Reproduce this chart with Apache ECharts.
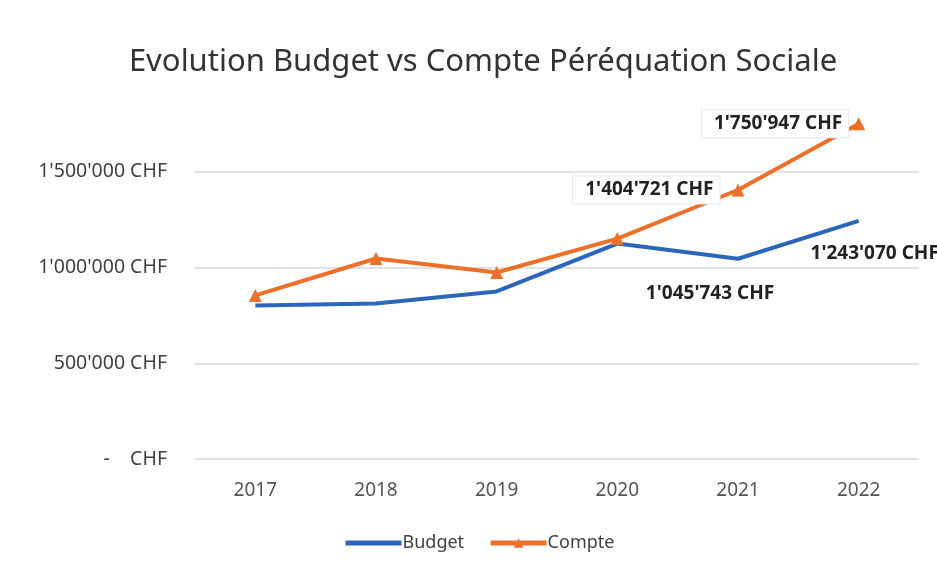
<!DOCTYPE html>
<html>
<head>
<meta charset="utf-8">
<script src="https://cdn.jsdelivr.net/npm/echarts@6/dist/echarts.min.js"></script>
<style>
  html, body { margin: 0; padding: 0; background: #fff; }
  #main { width: 937px; height: 571px; }
</style>
</head>
<body>
<div id="main"></div>
<script>
var years = ['2017', '2018', '2019', '2020', '2021', '2022'];
var budget = [802000, 812000, 875000, 1125000, 1045743, 1243070];
var compte = [854000, 1047000, 974000, 1151000, 1404721, 1750947];

var chartDom = document.getElementById('main');
var myChart = echarts.init(chartDom);

function chf(v) {
  if (v === 0) return '-    CHF';
  return String(Math.round(v)).replace(/\B(?=(\d{3})+(?!\d))/g, "'") + ' CHF';
}

var plainLabel = {
  show: true,
  formatter: function (p) { return chf(p.value); },
  color: '#222',
  fontWeight: 'bold',
  fontSize: 19,
  fontFamily: 'Noto Sans'
};

var boxLabel = Object.assign({}, plainLabel, {
  backgroundColor: '#fff',
  padding: [4, 6, 4, 12],
  borderColor: '#e6e6e6',
  borderWidth: 1
});

var budgetData = budget.map(function (v, i) {
  if (i === 4) return { value: v, label: Object.assign({}, plainLabel, { position: 'bottom', offset: [-28, 20] }) };
  if (i === 5) return { value: v, label: Object.assign({}, plainLabel, { position: 'bottom', offset: [16, 18] }) };
  return v;
});

var compteData = compte.map(function (v, i) {
  if (i === 4) return { value: v, label: Object.assign({}, boxLabel, { position: 'left', distance: 12 }) };
  if (i === 5) return { value: v, label: Object.assign({}, boxLabel, { position: 'left', distance: 4 }) };
  return v;
});

var option = {
  backgroundColor: '#fff',
  title: {
    text: 'Evolution Budget vs Compte Péréquation Sociale',
    left: 478,
    textAlign: 'center',
    top: 42,
    textStyle: { fontFamily: 'Noto Sans', fontSize: 31, fontWeight: 'normal', color: '#333' }
  },
  legend: {
    bottom: 14,
    left: 338,
    itemWidth: 56,
    itemHeight: 12,
    itemGap: 24,
    textStyle: { fontFamily: 'Noto Sans', fontSize: 18, color: '#404040', padding: [0, 0, 0, -4] },
    lineStyle: { width: 5 },
    data: [
      { name: 'Budget', itemStyle: { opacity: 0 } },
      'Compte'
    ]
  },
  grid: { left: 195, right: 18, top: 76, bottom: 112 },
  xAxis: {
    type: 'category',
    data: years,
    boundaryGap: true,
    axisLine: { show: false },
    axisTick: { show: false },
    axisLabel: { color: '#555', fontSize: 19, fontFamily: 'Noto Sans', margin: 22 }
  },
  yAxis: {
    type: 'value',
    min: 0,
    max: 2000000,
    interval: 500000,
    axisLine: { show: false },
    axisTick: { show: false },
    axisLabel: {
      color: '#404040',
      fontSize: 19.5,
      fontFamily: 'Noto Sans',
      margin: 28,
      formatter: function (v) { return v >= 2000000 ? '' : chf(v); }
    },
    splitLine: { lineStyle: { color: ['#e2e2e2', '#e2e2e2', '#e2e2e2', '#e2e2e2', 'rgba(0,0,0,0)'], width: 2 } }
  },
  series: [
    {
      name: 'Budget',
      type: 'line',
      data: budgetData,
      symbol: 'circle',
      symbolSize: 0.1,
      lineStyle: { color: '#2B66BA', width: 4 },
      itemStyle: { color: '#2B66BA' }
    },
    {
      name: 'Compte',
      type: 'line',
      data: compteData,
      symbol: 'triangle',
      symbolSize: 13,
      lineStyle: { color: '#EC6F2A', width: 4 },
      itemStyle: { color: '#EC6F2A' }
    }
  ]
};

option && myChart.setOption(option);
</script>
</body>
</html>
